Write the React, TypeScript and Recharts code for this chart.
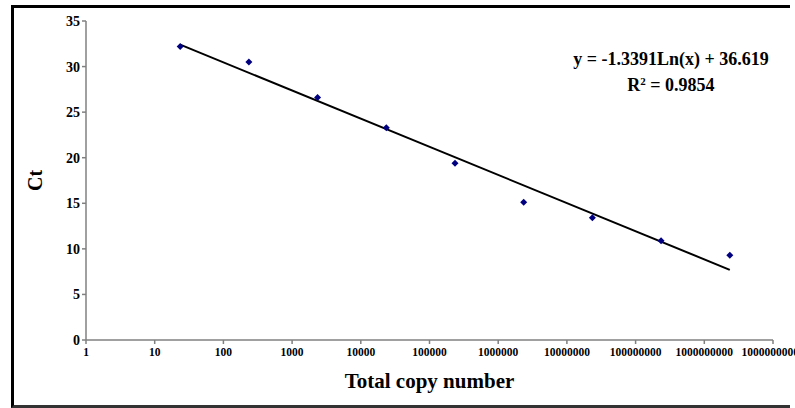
import {
  ScatterChart,
  Scatter,
  XAxis,
  YAxis,
  Label,
} from "recharts";

// copy numbers of the dilution series and measured Ct
const copyNumbers = [23.5, 235, 2350, 23500, 235000, 2350000, 23500000, 235000000, 2350000000];
const ctValues = [32.2, 30.5, 26.6, 23.3, 19.4, 15.1, 13.4, 10.9, 9.3];

// log trendline end points
const trendX = [23.5, 2350000000];
const trendY = [32.4, 7.7];

const xTicks = [1, 10, 100, 1000, 10000, 100000, 1000000, 10000000, 100000000, 1000000000, 10000000000];
const yTicks = [0, 5, 10, 15, 20, 25, 30, 35];

const points = copyNumbers.map((x, i) => ({ x, y: ctValues[i] }));
const trend = trendX.map((x, i) => ({ x, y: trendY[i] }));

const FONT = "'Liberation Serif', 'Times New Roman', serif";
const AXIS_COLOR = "#808080";

function Diamond(props: any) {
  const { cx, cy } = props;
  if (cx == null || cy == null) return null;
  const r = 3.5;
  return (
    <polygon
      points={`${cx},${cy - r} ${cx + r},${cy} ${cx},${cy + r} ${cx - r},${cy}`}
      fill="#000080"
    />
  );
}

function App() {
  return (
    <div style={{ position: "absolute", left: 0, top: 0, width: 795, height: 408, fontFamily: FONT, overflow: "hidden" }}>
      <div
        style={{
          position: "absolute",
          left: 11,
          top: 5,
          width: 779,
          height: 403,
          boxSizing: "border-box",
          borderTop: "3px solid #000",
          borderLeft: "3px solid #000",
          borderBottom: "3px solid #333",
        }}
      />
      <ScatterChart
        width={795}
        height={408}
        margin={{ top: 21, right: 22, bottom: 0, left: 0 }}
        style={{ position: "absolute", left: 0, top: 0 }}
      >
        <XAxis
          type="number"
          dataKey="x"
          scale="log"
          domain={[1, 10000000000]}
          ticks={xTicks}
          interval={0}
          allowDataOverflow
          height={68}
          stroke={AXIS_COLOR}
          strokeWidth={1.5}
          tickSize={4}
          tickFormatter={(v: number) => String(v)}
          tick={{ fontSize: 11.5, fontWeight: "bold", fill: "#000", fontFamily: FONT, dy: 2 }}
        >
          <Label
            value="Total copy number"
            position="insideBottom"
            offset={20}
            style={{ fontSize: 21, fontWeight: "bold", fill: "#000", fontFamily: FONT }}
          />
        </XAxis>
        <YAxis
          type="number"
          dataKey="y"
          domain={[0, 35]}
          ticks={yTicks}
          interval={0}
          width={86}
          stroke={AXIS_COLOR}
          strokeWidth={1.5}
          tickSize={4}
          tick={{ fontSize: 14, fontWeight: "bold", fill: "#000", fontFamily: FONT }}
        >
          <Label
            content={(p: any) => {
              const vb = p.viewBox;
              const cy = vb.y + vb.height / 2;
              return (
                <text
                  x={42}
                  y={cy}
                  transform={`rotate(-90, 42, ${cy})`}
                  textAnchor="middle"
                  style={{ fontSize: 20, fontWeight: "bold", fill: "#000", fontFamily: FONT }}
                >
                  Ct
                </text>
              );
            }}
          />
        </YAxis>
        <Scatter
          data={trend}
          line={{ stroke: "#000", strokeWidth: 2 }}
          shape={() => null}
          isAnimationActive={false}
        />
        <Scatter data={points} shape={Diamond} isAnimationActive={false} />
      </ScatterChart>
      <div
        style={{
          position: "absolute",
          left: 561,
          top: 46,
          width: 220,
          textAlign: "center",
          fontSize: 18,
          fontWeight: "bold",
          lineHeight: "26px",
          color: "#000",
        }}
      >
        <div>y = -1.3391Ln(x) + 36.619</div>
        <div>
          R<sup style={{ fontSize: 11, verticalAlign: "top", lineHeight: "18px" }}>2</sup> = 0.9854
        </div>
      </div>
    </div>
  );
}

export default App;
